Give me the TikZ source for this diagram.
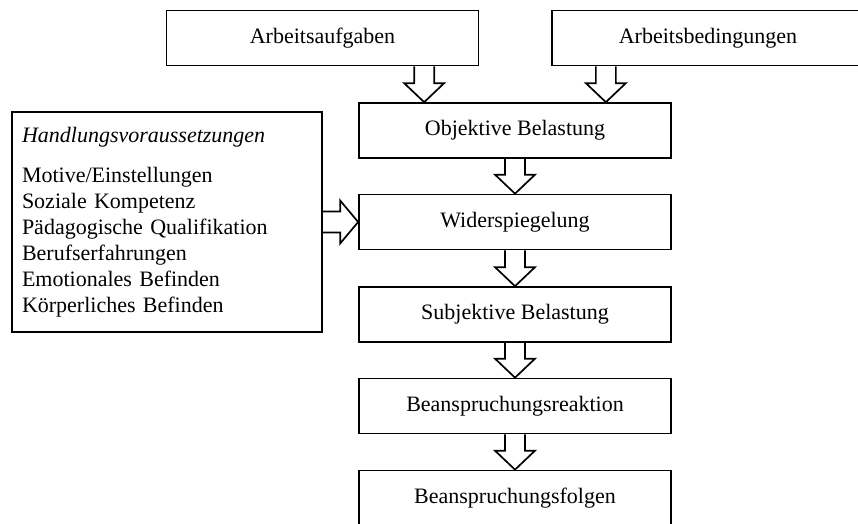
\documentclass[tikz,border=0pt]{standalone}
\usepackage{fontspec}
\setmainfont{Liberation Serif}
\usetikzlibrary{calc}

% hollow block arrow pointing down: open end at #1, tip at #2 (same x)
\newcommand\hollowdown[2]{%
  \draw[hollow] ([xshift=-10pt]#1) -- ([xshift=-10pt,yshift=19pt]#2)
    -- ([xshift=-20pt,yshift=19pt]#2) -- (#2)
    -- ([xshift=20pt,yshift=19pt]#2) -- ([xshift=10pt,yshift=19pt]#2)
    -- ([xshift=10pt]#1);}
% hollow block arrow pointing right: open end at #1, tip at #2 (same y)
\newcommand\hollowright[2]{%
  \draw[hollow] ([yshift=10.5pt]#1) -- ([xshift=-18pt,yshift=10.5pt]#2)
    -- ([xshift=-18pt,yshift=21.5pt]#2) -- (#2)
    -- ([xshift=-18pt,yshift=-21.5pt]#2) -- ([xshift=-18pt,yshift=-10.5pt]#2)
    -- ([yshift=-10.5pt]#1);}

\begin{document}
\begin{tikzpicture}[x=1pt,y=-1pt,
  box/.style={draw, line width=1.7pt, minimum width=312pt, minimum height=55pt,
    inner sep=0pt, font=\fontsize{22}{26}\selectfont},
  listbox/.style={draw, line width=1.7pt, minimum width=310pt, minimum height=220pt,
    inner sep=0pt, text width=290pt, align=left, font=\fontsize{22}{26}\selectfont},
  hollow/.style={draw, line width=1.7pt, line join=miter}]
\useasboundingbox (0,0) rectangle (858,523);

% input boxes
\node[box] (aufg) at (322.5,38) {Arbeitsaufgaben};
\node[box] (bed)  at (708,38)   {Arbeitsbedingungen};

% main chain
\node[box] (obj) at (515,130.5) {Objektive Belastung};
\node[box] (wid) at (515,222)   {Widerspiegelung};
\node[box] (sub) at (515,314.5) {Subjektive Belastung};
\node[box] (rea) at (515,406)   {Beanspruchungsreaktion};
\node[box] (fol) at (515,498)   {Beanspruchungsfolgen};

% preconditions
\node[listbox] (hv) at (167,222) {{\itshape Handlungsvoraussetzungen}\\[14pt]
  Motive/Einstellungen\\
  Soziale Kompetenz\\
  Pädagogische Qualifikation\\
  Berufserfahrungen\\
  Emotionales Befinden\\
  Körperliches Befinden};

% arrows from the input boxes
\coordinate (t1) at ([xshift=66pt]obj.north west);
\coordinate (s1) at (aufg.south -| t1);
\coordinate (t2) at ([xshift=-66pt]obj.north east);
\coordinate (s2) at (bed.south -| t2);
\hollowdown{s1}{t1}
\hollowdown{s2}{t2}

% arrows along the chain
\hollowdown{obj.south}{wid.north}
\hollowdown{wid.south}{sub.north}
\hollowdown{sub.south}{rea.north}
\hollowdown{rea.south}{fol.north}

% preconditions feed into the reflection step
\hollowright{hv.east}{wid.west}
\end{tikzpicture}
\end{document}
